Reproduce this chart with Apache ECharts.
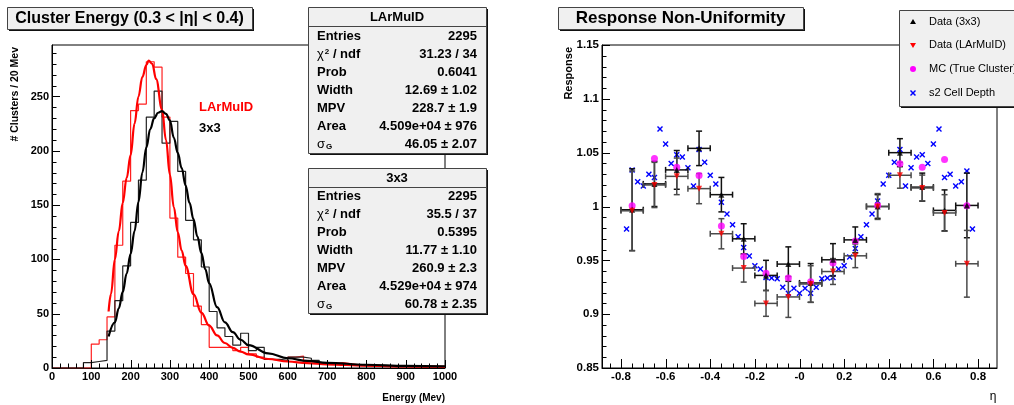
<!DOCTYPE html>
<html>
<head>
<meta charset="utf-8">
<script src="https://cdn.jsdelivr.net/npm/echarts@6/dist/echarts.min.js"></script>
<style>
  html, body { margin: 0; padding: 0; background: #fff; }
  #chart { width: 1014px; height: 405px; }
</style>
</head>
<body>
<div id="chart"></div>
<script>
// ---- left panel: cluster energy histograms, 20 MeV bins ----
const binLow = [0,20,40,60,80,100,120,140,160,180,200,220,240,260,280,300,320,340,360,380,
  400,420,440,460,480,500,520,540,560,580,600,620,640,660,680,700,720,740,760,780,
  800,820,840,860,880,900,920,940,960,980];
const binWidth = 20;
const histLArMuID = [0,0,0,0,0,22,26,47,113,172,237,243,282,277,231,138,102,87,57,40,
  19,19,19,16,19,13,10,8,7,6,10,11,6,5,4,4,5,4,3,3,2,2,2,2,2,1,1,1,1,1];
const hist3x3 = [0,0,0,0,5,6,7,34,62,94,134,173,231,255,207,227,181,136,118,93,
  52,37,29,21,32,16,19,8,8,7,10,10,9,7,4,4,3,3,3,2,2,2,2,1,1,1,1,1,1,1];

// fit curves
const fitLArE = [144,150,160,170,180,190,200,210,220,230,240,246,255,265,280,290,300,310,320,330,340,360,380,400,420,440,460,480,500,550,600,650,700,800,900,1000];
const fitLArV = [52,68,100,126,152,175,196,225,250,268,279,283,280,266,238,210,178,148,125,108,94,68,51,39,30,23,18.5,15,12.5,8.3,6,4.5,3.4,2.1,1.5,1.1];
const fit3x3E = [144,160,170,180,190,200,210,220,230,240,250,260,270,280,290,300,310,320,330,340,350,360,370,380,390,400,420,440,460,480,500,550,600,650,700,800,900,1000];
const fit3x3V = [29,42,55,70,87,105,126,153,180,203,220,230,235,236.5,234,228,212,198,184,168,152,137,121,106,91,78,56,42,33,26,21,13.5,9,6.5,4.8,3,2,1.5];

const statsLAr = [['Entries','2295'],['chi','31.23 / 34'],['Prob','0.6041'],['Width','12.69 \u00b1 1.02'],
  ['MPV','228.7 \u00b1 1.9'],['Area','4.509e+04 \u00b1 976'],['sigma','46.05 \u00b1 2.07']];
const stats3x3 = [['Entries','2295'],['chi','35.5 / 37'],['Prob','0.5395'],['Width','11.77 \u00b1 1.10'],
  ['MPV','260.9 \u00b1 2.3'],['Area','4.529e+04 \u00b1 974'],['sigma','60.78 \u00b1 2.35']];

// ---- right panel: response vs eta ----
const etaData = [-0.75,-0.65,-0.55,-0.45,-0.35,-0.25,-0.15,-0.05,0.05,0.15,0.25,0.35,0.45,0.55,0.65,0.75];
const etaHalfWidth = 0.05;
const resp3x3 = [0.997,1.021,1.034,1.054,1.011,0.970,0.936,0.9465,0.929,0.9505,0.969,1.000,1.050,1.018,0.9964,1.001];
const err3x3 = [0.038,0.021,0.018,0.016,0.016,0.014,0.014,0.016,0.018,0.015,0.012,0.011,0.013,0.013,0.019,0.030];
const respLAr = [0.996,1.020,1.028,1.0166,0.9747,0.9428,0.910,0.916,0.928,0.9396,0.9542,1.000,1.029,1.0172,0.994,0.9468];
const errLAr = [0.037,0.021,0.017,0.014,0.014,0.013,0.012,0.019,0.017,0.012,0.011,0.012,0.012,0.012,0.017,0.031];
const respMC = [1.0008,1.0445,1.0364,1.0287,0.982,0.9536,0.938,0.9335,0.930,0.9475,0.968,1.001,1.0396,1.0365,1.0436,1.0008];

const etaS2 = [-0.775,-0.75,-0.725,-0.7,-0.675,-0.65,-0.625,-0.6,-0.575,-0.55,-0.525,-0.5,-0.475,-0.45,-0.425,-0.4,
  -0.375,-0.35,-0.325,-0.3,-0.275,-0.25,-0.225,-0.2,-0.175,-0.15,-0.125,-0.1,-0.075,-0.05,-0.025,0,
  0.025,0.05,0.075,0.1,0.125,0.15,0.175,0.2,0.225,0.25,0.275,0.3,0.325,0.35,0.375,0.4,
  0.425,0.45,0.475,0.5,0.525,0.55,0.575,0.6,0.625,0.65,0.675,0.7,0.725,0.75,0.775];
const respS2 = [0.979,1.034,1.023,1.019,1.030,1.027,1.072,1.058,1.040,1.048,1.046,1.036,1.019,1.053,1.041,1.029,
  1.021,1.004,0.993,0.983,0.972,0.962,0.954,0.945,0.942,0.934,0.9335,0.933,0.925,0.9195,0.924,0.9195,
  0.924,0.9195,0.925,0.933,0.9335,0.934,0.942,0.945,0.953,0.961,0.972,0.983,0.993,1.005,1.021,1.029,
  1.041,1.053,1.019,1.036,1.046,1.048,1.040,1.058,1.072,1.027,1.030,1.019,1.023,1.033,0.979];

// tick positions (major every 100 / 50 / 0.2 / 0.05)
const leftXTicks = [0,20,40,60,80,100,120,140,160,180,200,220,240,260,280,300,320,340,360,380,400,
  420,440,460,480,500,520,540,560,580,600,620,640,660,680,700,720,740,760,780,800,820,840,860,880,900,920,940,960,980,1000];
const leftYTicks = [0,10,20,30,40,50,60,70,80,90,100,110,120,130,140,150,160,170,180,190,200,210,220,230,240,250,260,270,280,290];
const rightXTicks = [-0.85,-0.8,-0.75,-0.7,-0.65,-0.6,-0.55,-0.5,-0.45,-0.4,-0.35,-0.3,-0.25,-0.2,-0.15,-0.1,-0.05,0,
  0.05,0.1,0.15,0.2,0.25,0.3,0.35,0.4,0.45,0.5,0.55,0.6,0.65,0.7,0.75,0.8,0.85];
const rightYTicks = [0.85,0.86,0.87,0.88,0.89,0.9,0.91,0.92,0.93,0.94,0.95,0.96,0.97,0.98,0.99,1,1.01,1.02,1.03,1.04,1.05,
  1.06,1.07,1.08,1.09,1.1,1.11,1.12,1.13,1.14,1.15];

const FONT = '"Liberation Sans", Arial, Helvetica, sans-serif';

function stepData(vals) {
  const pts = binLow.map((x, i) => [x, vals[i]]);
  pts.push([binLow[binLow.length - 1] + binWidth, vals[vals.length - 1]]);
  return pts;
}
function zip(a, b, c) { return a.map((v, i) => c ? [v, b[i], c[i]] : [v, b[i]]); }

function txt(x, y, text, size, o) {
  o = o || {};
  const st = {
    text: text, fill: o.color || '#000', fontSize: size, fontWeight: o.weight || 'bold',
    fontFamily: FONT, align: o.align || 'left', verticalAlign: 'middle',
    textAlign: o.align || 'left', textVerticalAlign: 'middle'
  };
  if (o.rich) st.rich = o.rich;
  return { type: 'text', x: x, y: y, rotation: o.rotation || 0, z: 100, style: st };
}
function box(x, y, w, h) {
  return [
    { type: 'rect', z: 90, shape: { x: x + 2, y: y + 2, width: w, height: h }, style: { fill: '#111' } },
    { type: 'rect', z: 91, shape: { x: x + 0.5, y: y + 0.5, width: w, height: h }, style: { fill: '#f0f0f0', stroke: '#444', lineWidth: 1 } }
  ];
}
function statsBox(x, y, w, h, title, rows, rowY) {
  const els = box(x, y, w, h);
  els.push({ type: 'line', z: 92, shape: { x1: x, y1: y + 19.5, x2: x + w, y2: y + 19.5 }, style: { stroke: '#444', lineWidth: 1 } });
  els.push(txt(x + w / 2, y + 10, title, 13, { align: 'center' }));
  const rich = {
    a: { fontSize: 13, fontWeight: 'bold', fontFamily: FONT, verticalAlign: 'middle' },
    g: { fontSize: 13, fontWeight: 'normal', fontFamily: FONT, verticalAlign: 'middle' },
    sup: { fontSize: 8, fontWeight: 'bold', fontFamily: FONT, verticalAlign: 'top', padding: [0, 0, 0, 1] },
    sub: { fontSize: 8, fontWeight: 'bold', fontFamily: FONT, verticalAlign: 'bottom', padding: [0, 0, 0, 1] }
  };
  rows.forEach((r, i) => {
    const yy = rowY + i * 18;
    let label = r[0];
    if (label === 'chi') label = '{g|\u03c7}{sup|2}{a| / ndf}';
    else if (label === 'sigma') label = '{g|\u03c3}{sub|G}';
    else label = '{a|' + label + '}';
    els.push(txt(x + 9, yy, label, 13, { rich: rich }));
    els.push(txt(x + w - 9, yy, r[1], 13, { align: 'right' }));
  });
  return els;
}

const legendItems = [
  { name: 'Data (3x3)', y: 22 },
  { name: 'Data (LArMuID)', y: 45 },
  { name: 'MC (True Cluster)', y: 69 },
  { name: 's2 Cell Depth', y: 93 }
];
function legendEls() {
  const els = box(899, 10, 130, 96);
  const mx = 913;
  els.push({ type: 'polygon', z: 95, shape: { points: [[mx, 19], [mx - 3, 24], [mx + 3, 24]] }, style: { fill: '#000' } });
  els.push({ type: 'polygon', z: 95, shape: { points: [[mx - 3, 43], [mx + 3, 43], [mx, 48]] }, style: { fill: '#ff0000' } });
  els.push({ type: 'circle', z: 95, shape: { cx: mx, cy: 69, r: 3 }, style: { fill: '#ff00ff' } });
  els.push({ type: 'line', z: 95, shape: { x1: mx - 2.5, y1: 90.5, x2: mx + 2.5, y2: 95.5 }, style: { stroke: '#0000ff', lineWidth: 1.5 } });
  els.push({ type: 'line', z: 95, shape: { x1: mx + 2.5, y1: 90.5, x2: mx - 2.5, y2: 95.5 }, style: { stroke: '#0000ff', lineWidth: 1.5 } });
  legendItems.forEach(it => els.push(txt(929, it.y, it.name, 11, { weight: 'normal' })));
  return els;
}

function crossRender(params, api) {
  const p = api.coord([api.value(0), api.value(1)]);
  const s = 2.5;
  const st = { stroke: '#0000ff', lineWidth: 1.4 };
  return { type: 'group', children: [
    { type: 'line', shape: { x1: p[0] - s, y1: p[1] - s, x2: p[0] + s, y2: p[1] + s }, style: st },
    { type: 'line', shape: { x1: p[0] + s, y1: p[1] - s, x2: p[0] - s, y2: p[1] + s }, style: st }
  ] };
}
function errRender(color) {
  return function (params, api) {
    const x = api.value(0), y = api.value(1), e = api.value(2);
    const l = api.coord([x - etaHalfWidth, y]);
    const r = api.coord([x + etaHalfWidth, y]);
    const t = api.coord([x, y + e]);
    const b = api.coord([x, y - e]);
    const c = 3;
    const st = { stroke: color, lineWidth: 1.5 };
    const ln = (x1, y1, x2, y2) => ({ type: 'line', shape: { x1, y1, x2, y2 }, style: st });
    return { type: 'group', children: [
      ln(l[0], l[1], r[0], r[1]),
      ln(t[0], t[1], b[0], b[1]),
      ln(l[0], l[1] - c, l[0], l[1] + c),
      ln(r[0], r[1] - c, r[0], r[1] + c),
      ln(t[0] - c, t[1], t[0] + c, t[1]),
      ln(b[0] - c, b[1], b[0] + c, b[1])
    ] };
  };
}
// inside-pointing axis ticks for one panel, drawn through its axis scales
function isMajor(v, step) { const q = v / step; return Math.abs(q - Math.round(q)) < 1e-6; }
function axisTicksSeries(gi, xTicks, xStep, xBase, xMaj, yTicks, yStep, yBase, yMaj) {
  return {
    type: 'custom', xAxisIndex: gi, yAxisIndex: gi, z: 8, silent: true, clip: false,
    data: [[xBase, yBase]],
    renderItem: function (params, api) {
      const kids = [];
      const st = { stroke: '#000', lineWidth: 1 };
      xTicks.forEach(v => {
        const p = api.coord([v, yBase]);
        const x = Math.round(p[0]) + 0.5, len = isMajor(v, xStep) ? xMaj : 4.5;
        kids.push({ type: 'line', shape: { x1: x, y1: p[1], x2: x, y2: p[1] - len }, style: st });
      });
      yTicks.forEach(v => {
        const p = api.coord([xBase, v]);
        const y = Math.round(p[1]) + 0.5, len = isMajor(v, yStep) ? yMaj : 4.5;
        kids.push({ type: 'line', shape: { x1: p[0], y1: y, x2: p[0] + len, y2: y }, style: st });
      });
      return { type: 'group', children: kids };
    }
  };
}

const labelBase = { color: '#000', fontWeight: 'bold', fontFamily: FONT };
const axisLineStyle = { show: true, onZero: false, lineStyle: { color: '#000', width: 1 } };

const chart = echarts.init(document.getElementById('chart'), null, { renderer: 'canvas' });
chart.setOption({
  animation: false,
  backgroundColor: '#fff',
  grid: [
    { left: 52, top: 45, width: 393, height: 323, show: true, borderColor: '#000', borderWidth: 1, backgroundColor: 'transparent' },
    { left: 602, top: 45, width: 395, height: 323, show: true, borderColor: '#000', borderWidth: 1, backgroundColor: 'transparent' }
  ],
  xAxis: [
    { type: 'value', gridIndex: 0, min: 0, max: 1000, interval: 100,
      axisLine: axisLineStyle, splitLine: { show: false }, axisTick: { show: false },
      axisLabel: Object.assign({ margin: 3, fontSize: 11, formatter: v => String(v) }, labelBase) },
    { type: 'value', gridIndex: 1, min: -0.885, max: 0.885, splitNumber: 9,
      axisLine: axisLineStyle, splitLine: { show: false }, axisTick: { show: false },
      axisLabel: Object.assign({ margin: 3, fontSize: 11.5, showMinLabel: false, showMaxLabel: false,
        formatter: v => Math.abs(v) < 1e-9 ? '-0' : String(Math.round(v * 10) / 10) }, labelBase) }
  ],
  yAxis: [
    { type: 'value', gridIndex: 0, min: 0, max: 297.4, interval: 50,
      axisLine: axisLineStyle, splitLine: { show: false }, axisTick: { show: false },
      axisLabel: Object.assign({ margin: 3, fontSize: 11, showMaxLabel: false }, labelBase) },
    { type: 'value', gridIndex: 1, min: 0.85, max: 1.15, interval: 0.05,
      axisLine: axisLineStyle, splitLine: { show: false }, axisTick: { show: false },
      axisLabel: Object.assign({ margin: 3, fontSize: 11.5 }, labelBase) }
  ],
  series: [
    axisTicksSeries(0, leftXTicks, 100, 0, 8, leftYTicks, 50, 0, 8),
    axisTicksSeries(1, rightXTicks, 0.2, -0.885, 9, rightYTicks, 0.05, 0.85, 8),

    { type: 'line', xAxisIndex: 0, yAxisIndex: 0, step: 'end', symbol: 'none', z: 3,
      data: stepData(histLArMuID), lineStyle: { color: '#ff2020', width: 1.2 } },
    { type: 'line', xAxisIndex: 0, yAxisIndex: 0, step: 'end', symbol: 'none', z: 3,
      data: stepData(hist3x3), lineStyle: { color: '#222', width: 1.2 } },
    { type: 'line', xAxisIndex: 0, yAxisIndex: 0, smooth: 0.4, smoothMonotone: 'x', symbol: 'none', z: 4,
      data: zip(fitLArE, fitLArV), lineStyle: { color: '#ff0000', width: 2.2 } },
    { type: 'line', xAxisIndex: 0, yAxisIndex: 0, smooth: 0.4, smoothMonotone: 'x', symbol: 'none', z: 4,
      data: zip(fit3x3E, fit3x3V), lineStyle: { color: '#000', width: 2.2 } },

    { type: 'custom', xAxisIndex: 1, yAxisIndex: 1, z: 3, renderItem: crossRender, data: zip(etaS2, respS2) },
    { type: 'custom', xAxisIndex: 1, yAxisIndex: 1, z: 4, renderItem: errRender('#111'), data: zip(etaData, resp3x3, err3x3) },
    { type: 'custom', xAxisIndex: 1, yAxisIndex: 1, z: 4, renderItem: errRender('#4a4a4a'), data: zip(etaData, respLAr, errLAr) },
    { type: 'scatter', xAxisIndex: 1, yAxisIndex: 1, z: 5, symbol: 'circle', symbolSize: 7,
      itemStyle: { color: '#ff00ff' }, data: zip(etaData, respMC) },
    { type: 'scatter', xAxisIndex: 1, yAxisIndex: 1, z: 6, symbol: 'triangle', symbolSize: 6,
      itemStyle: { color: '#000' }, data: zip(etaData, resp3x3) },
    { type: 'scatter', xAxisIndex: 1, yAxisIndex: 1, z: 7, symbol: 'triangle', symbolRotate: 180, symbolSize: 6,
      itemStyle: { color: '#ff0000' }, data: zip(etaData, respLAr) }
  ],
  graphic: [].concat(
    box(7, 7, 245, 22),
    [txt(129.5, 18.5, 'Cluster Energy (0.3 < |\u03b7| < 0.4)', 16, { align: 'center' })],
    box(558, 7, 245, 22),
    [txt(680.5, 18.5, 'Response Non-Uniformity', 17, { align: 'center' })],
    statsBox(308, 7, 178, 146, 'LArMuID', statsLAr, 36),
    statsBox(308, 168, 178, 145, '3x3', stats3x3, 196),
    legendEls(),
    [
      txt(199, 107, 'LArMuID', 13, { color: '#ff0000' }),
      txt(199, 128, '3x3', 13),
      txt(15, 47, '# Clusters / 20 Mev', 10.5, { align: 'right', rotation: Math.PI / 2 }),
      txt(445, 398, 'Energy (Mev)', 10, { align: 'right' }),
      txt(569, 47, 'Response', 11, { align: 'right', rotation: Math.PI / 2 }),
      txt(993, 397, '\u03b7', 12, { weight: 'normal', align: 'center' })
    ]
  )
});
</script>
</body>
</html>
